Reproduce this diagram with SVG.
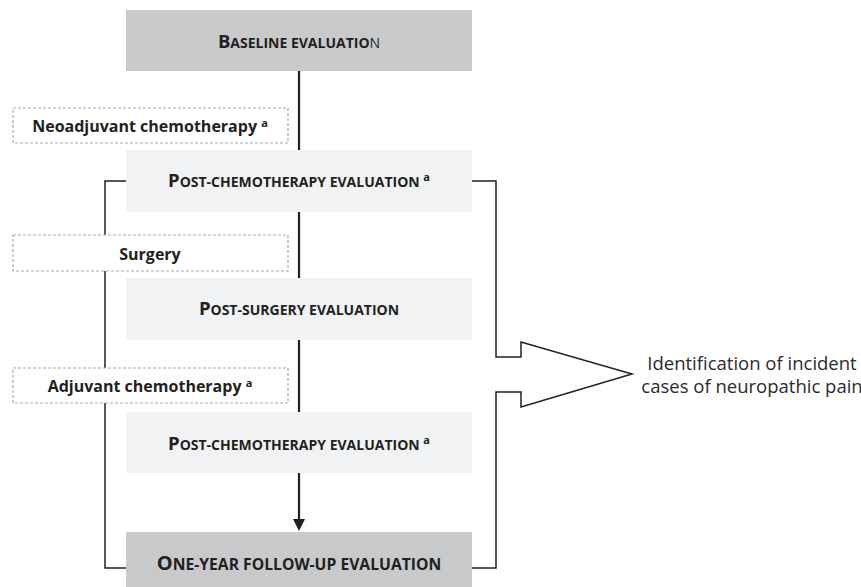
<svg xmlns="http://www.w3.org/2000/svg" width="861" height="587" viewBox="0 0 861 587">
<style>
text{font-family:"Open Sans","Liberation Sans",sans-serif;fill:#231f20}
.t{font-weight:bold;text-anchor:middle}
.b{font-size:18.5px}
.s{font-size:14px}
.b2{font-size:20px}
.s2{font-size:15.7px}
.sup{font-size:11px;font-weight:bold}
.lbl{font-size:16px;font-weight:bold;text-anchor:middle}
.dark{fill:#c8c9cb}
.light{fill:#f1f2f3}
.dash{fill:#fff;stroke:#a7a9ac;stroke-width:1.2;stroke-dasharray:3 2}
.br{fill:none;stroke:#231f20;stroke-width:1.5}
.main{stroke:#231f20;stroke-width:2.2;fill:none}
.side{font-size:18.5px;text-anchor:middle;fill:#2b2b2b}
</style>
<g id="connectors">
<line class="main" x1="299" y1="71" x2="299" y2="150"/>
<line class="main" x1="299" y1="212" x2="299" y2="278"/>
<line class="main" x1="299" y1="340" x2="299" y2="412"/>
<path class="main" d="M299,473 L299,520"/>
<path d="M293,519 L305,519 L299,531 Z" fill="#231f20"/>
<path class="br" d="M126,181 H105 V568 H126"/>
<path class="br" d="M472,181 H496 V357 H521 V342 L632,374 L521,407 V392 H496 V568 H472"/>
</g>
<g id="n-baseline">
<rect class="dark" x="126" y="10" width="346" height="61"/>
<text class="t" x="299" y="48"><tspan class="b">B</tspan><tspan class="s">ASELINE EVALUATIO</tspan><tspan class="s" font-weight="normal">N</tspan></text>
</g>
<g id="n-neoadjuvant">
<rect class="dash" x="13" y="108" width="275" height="35"/>
<text class="lbl" x="150" y="131.5">Neoadjuvant chemotherapy <tspan class="sup" dy="-5">a</tspan></text>
</g>
<g id="n-postchemo1">
<rect class="light" x="126" y="150" width="346" height="62"/>
<text class="t" x="299" y="187"><tspan class="b">P</tspan><tspan class="s">OST-CHEMOTHERAPY EVALUATION </tspan><tspan class="sup" dy="-6">a</tspan></text>
</g>
<g id="n-surgery">
<rect class="dash" x="13" y="235" width="275" height="36"/>
<text class="lbl" x="150" y="259.5">Surgery</text>
</g>
<g id="n-postsurgery">
<rect class="light" x="126" y="278" width="346" height="62"/>
<text class="t" x="299" y="315"><tspan class="b">P</tspan><tspan class="s">OST-SURGERY EVALUATION</tspan></text>
</g>
<g id="n-adjuvant">
<rect class="dash" x="13" y="368" width="275" height="35"/>
<text class="lbl" x="150" y="391.5">Adjuvant chemotherapy <tspan class="sup" dy="-5">a</tspan></text>
</g>
<g id="n-postchemo2">
<rect class="light" x="126" y="412" width="346" height="61"/>
<text class="t" x="299" y="450"><tspan class="b">P</tspan><tspan class="s">OST-CHEMOTHERAPY EVALUATION </tspan><tspan class="sup" dy="-6">a</tspan></text>
</g>
<g id="n-followup">
<rect class="dark" x="126" y="532" width="346" height="55"/>
<text class="t" x="299" y="569.5"><tspan class="b2">O</tspan><tspan class="s2">NE-YEAR FOLLOW-UP EVALUATION</tspan></text>
</g>
<g id="n-identification">
<text class="side" x="752" y="370">Identification of incident</text>
<text class="side" x="752" y="393">cases of neuropathic pain</text>
</g>
</svg>
